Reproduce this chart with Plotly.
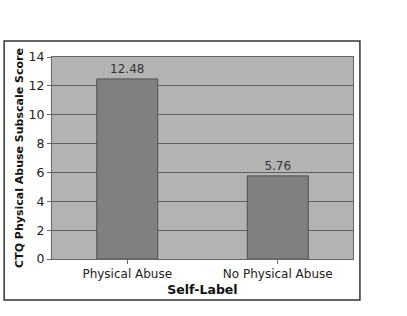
import plotly.graph_objects as go

categories = ["Physical Abuse", "No Physical Abuse"]
scores = [12.48, 5.76]
score_labels = ["12.48", "5.76"]
y_ticks = [0, 2, 4, 6, 8, 10, 12, 14]

FONT = "DejaVu Sans"

fig = go.Figure()
fig.add_trace(go.Bar(
    x=categories, y=scores,
    text=score_labels, textposition="outside",
    textfont=dict(family=FONT, size=12, color="#333333"),
    marker=dict(color="#808080", line=dict(color="#505050", width=1)),
    width=0.405, cliponaxis=False,
))

fig.update_layout(
    width=407, height=316,
    margin=dict(l=52, r=54, t=57, b=57, autoexpand=False),
    paper_bgcolor="white",
    plot_bgcolor="#b3b3b3",
    showlegend=False,
    font=dict(family=FONT, color="#111111"),
    xaxis=dict(
        title=dict(text="<b>Self-Label</b>", font=dict(family=FONT, size=12.5, color="#111111"), standoff=4),
        tickfont=dict(family=FONT, size=12, color="#222222"),
        showline=True, linecolor="#666666", linewidth=1,
        ticks="outside", ticklen=4, tickcolor="#666666",
        mirror=True, automargin=False,
    ),
    yaxis=dict(
        title=dict(text="<b>CTQ Physical Abuse Subscale Score</b>", font=dict(family=FONT, size=11, color="#111111"), standoff=2),
        range=[0, 14], tickvals=y_ticks,
        tickfont=dict(family=FONT, size=12.5, color="#222222"),
        showgrid=True, gridcolor="#5f5f5f", gridwidth=1,
        showline=True, linecolor="#666666", linewidth=1,
        ticks="outside", ticklen=4, tickcolor="#666666",
        mirror=True, zeroline=False, automargin=False,
    ),
    shapes=[dict(
        type="rect", xref="paper", yref="paper",
        x0=-0.159, x1=1.023, y0=-0.203, y1=1.079,
        line=dict(color="#333333", width=1.5), fillcolor="rgba(0,0,0,0)",
        layer="below",
    )],
)

fig.write_html("out.html")
